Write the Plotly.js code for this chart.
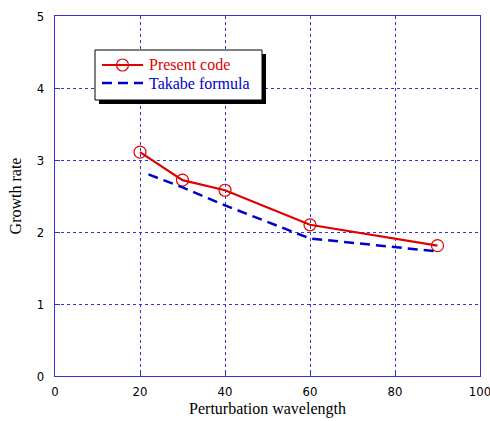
<!DOCTYPE html>
<html><head><meta charset="utf-8">
<script src="https://cdn.plot.ly/plotly-3.0.1.min.js"></script>
<style>body{margin:0;background:#fff}#c{width:490px;height:421px}</style>
</head><body><div id="c"></div>
<script>
const presentX = [20, 30, 40, 60, 90];
const presentY = [3.11, 2.72, 2.58, 2.10, 1.81];
const takabeX = [22, 30, 40, 60, 90];
const takabeY = [2.80, 2.62, 2.37, 1.91, 1.73];
const xTicks = [0, 20, 40, 60, 80, 100];
const yTicks = [0, 1, 2, 3, 4, 5];
const seriesNames = ["Present code", "Takabe formula"];

const serif = "Liberation Serif, Times New Roman, serif";
const tickFont = {family: "DejaVu Sans Condensed, Liberation Sans Narrow, sans-serif", size: 13, color: "#000"};
const red = "#e00000", blue = "#0000cc";

const traces = [
  {x: presentX, y: presentY, name: seriesNames[0], mode: "lines+markers",
   line: {color: red, width: 2.2},
   marker: {symbol: "circle-open", size: 12, color: red, line: {width: 1.2}}},
  {x: takabeX, y: takabeY, name: seriesNames[1], mode: "lines",
   line: {color: blue, width: 2.5, dash: "10px,6px"}}
];

const axisCommon = {
  showline: true, mirror: true, linecolor: "#3333dd", linewidth: 1.2,
  showgrid: true, gridcolor: "#3333dd", griddash: "dot", gridwidth: 1,
  ticks: "inside", ticklen: 5, tickcolor: "#3333dd",
  zeroline: false, tickfont: tickFont, ticklabeloverflow: "allow"
};

const px = v => (v - 55) / 425;
const py = v => (376 - v) / 360;

const layout = {
  width: 490, height: 421,
  margin: {l: 55, r: 10, t: 16, b: 45},
  paper_bgcolor: "#fff", plot_bgcolor: "#fff",
  showlegend: false,
  xaxis: Object.assign({}, axisCommon, {range: [0, 100], tickvals: xTicks, ticklabelstandoff: 3,
    title: {text: "Perturbation wavelength", font: {family: serif, size: 16, color: "#000"}, standoff: 5}}),
  yaxis: Object.assign({}, axisCommon, {range: [0, 5], tickvals: yTicks, ticklabelstandoff: 7,
    title: {text: "Growth rate", font: {family: serif, size: 16, color: "#000"}, standoff: 11}}),
  shapes: [
    {type: "rect", xref: "paper", yref: "paper", layer: "above",
     x0: px(99), x1: px(266), y0: py(104), y1: py(54),
     fillcolor: "#000", line: {width: 0}},
    {type: "rect", xref: "paper", yref: "paper", layer: "above",
     x0: px(95), x1: px(262), y0: py(100), y1: py(50),
     fillcolor: "#fff", line: {color: "#000", width: 1}},
    {type: "line", xref: "paper", yref: "paper", layer: "above",
     x0: px(102), x1: px(143), y0: py(65), y1: py(65), line: {color: red, width: 2.2}},
    {type: "circle", xref: "paper", yref: "paper", layer: "above",
     x0: px(116.5), x1: px(128.5), y0: py(71), y1: py(59), fillcolor: "rgba(0,0,0,0)", line: {color: red, width: 1.2}},
    {type: "line", xref: "paper", yref: "paper", layer: "above",
     x0: px(102), x1: px(143), y0: py(83), y1: py(83), line: {color: blue, width: 2.5, dash: "10px,6px"}}
  ],
  annotations: [
    {xref: "paper", yref: "paper", x: px(147), y: py(65), xanchor: "left", yanchor: "middle",
     text: seriesNames[0], showarrow: false, font: {family: serif, size: 16, color: red}},
    {xref: "paper", yref: "paper", x: px(147), y: py(83), xanchor: "left", yanchor: "middle",
     text: seriesNames[1], showarrow: false, font: {family: serif, size: 16, color: blue}}
  ]
};

Plotly.newPlot("c", traces, layout, {displayModeBar: false, staticPlot: true});
</script></body></html>
